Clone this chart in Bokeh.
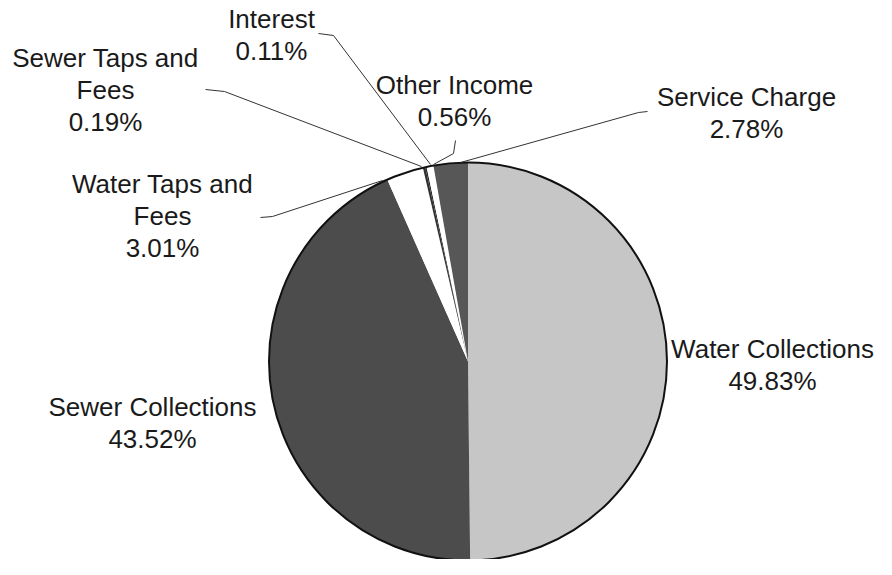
import math
from bokeh.plotting import figure
from bokeh.models import Range1d, ColumnDataSource
from bokeh.core.properties import value
from bokeh.embed import file_html
from bokeh.resources import INLINE

# ---- data ----
categories = ["Water Collections", "Sewer Collections", "Water Taps and Fees",
              "Sewer Taps and Fees", "Interest", "Other Income", "Service Charge"]
shares = [49.83, 43.52, 3.01, 0.19, 0.11, 0.56, 2.78]
label_names = [["Water Collections"], ["Sewer Collections"], ["Water Taps and", "Fees"],
               ["Sewer Taps and", "Fees"], ["Interest"], ["Other Income"], ["Service Charge"]]

# ---- styles / layout ----
colors = ["#c6c6c6", "#4c4c4c", "#ffffff", "#303030", "#2a2a2a", "#ffffff", "#575757"]
W, H = 876, 559
cx, cy_pix, R = 467.5, 361, 199

def Y(py):
    return H - py

# label centre x, centre y of first line (picture px)
label_pos = [(772, 348), (152, 406), (162, 183), (105, 57), (271, 18), (454, 84), (746, 96)]
pitch = 32
leaders = [
    None, None,
    [(260, 217), (272, 216), (382, 180)],
    [(205, 89), (224, 91), (421, 166)],
    [(318, 33), (333, 35), (430, 164)],
    [(455, 140), (453, 153), (433, 164)],
    [(647, 111), (638, 112), (460, 162)],
]

p = figure(width=W, height=H, output_backend="svg", toolbar_location=None,
           x_range=Range1d(0, W), y_range=Range1d(0, H),
           min_border=0, background_fill_color="white", border_fill_color="white")
p.axis.visible = False
p.grid.visible = False
p.outline_line_color = None

total = sum(shares)
starts, ends = [], []
cum = 0.0
for s in shares:
    starts.append(math.pi / 2 - 2 * math.pi * cum / total)
    cum += s
    ends.append(math.pi / 2 - 2 * math.pi * cum / total)

src = ColumnDataSource(dict(start=starts, end=ends, color=colors, cat=categories))
p.wedge(x=cx, y=Y(cy_pix), radius=R, start_angle="start", end_angle="end",
        direction="clock", fill_color="color", line_color=None, source=src)
p.arc(x=cx, y=Y(cy_pix), radius=R, start_angle=0, end_angle=2 * math.pi,
      line_color="#111111", line_width=2)

xs, ys = [], []
for ld in leaders:
    if ld is None:
        continue
    xs.append([pt[0] for pt in ld])
    ys.append([Y(pt[1]) for pt in ld])
p.multi_line(xs=xs, ys=ys, line_color="#333333", line_width=1)

tx, ty, tt = [], [], []
for names, share, (lx, ly) in zip(label_names, shares, label_pos):
    lines = names + [f"{share:.2f}%"]
    for i, t in enumerate(lines):
        tx.append(lx)
        ty.append(Y(ly + i * pitch))
        tt.append(t)
p.text(x=tx, y=ty, text=tt, text_align="center", text_baseline="middle",
       text_font=value("Liberation Sans"), text_font_size="26px", text_color="#1a1a1a")

open("out.html", "w").write(file_html(p, INLINE))
